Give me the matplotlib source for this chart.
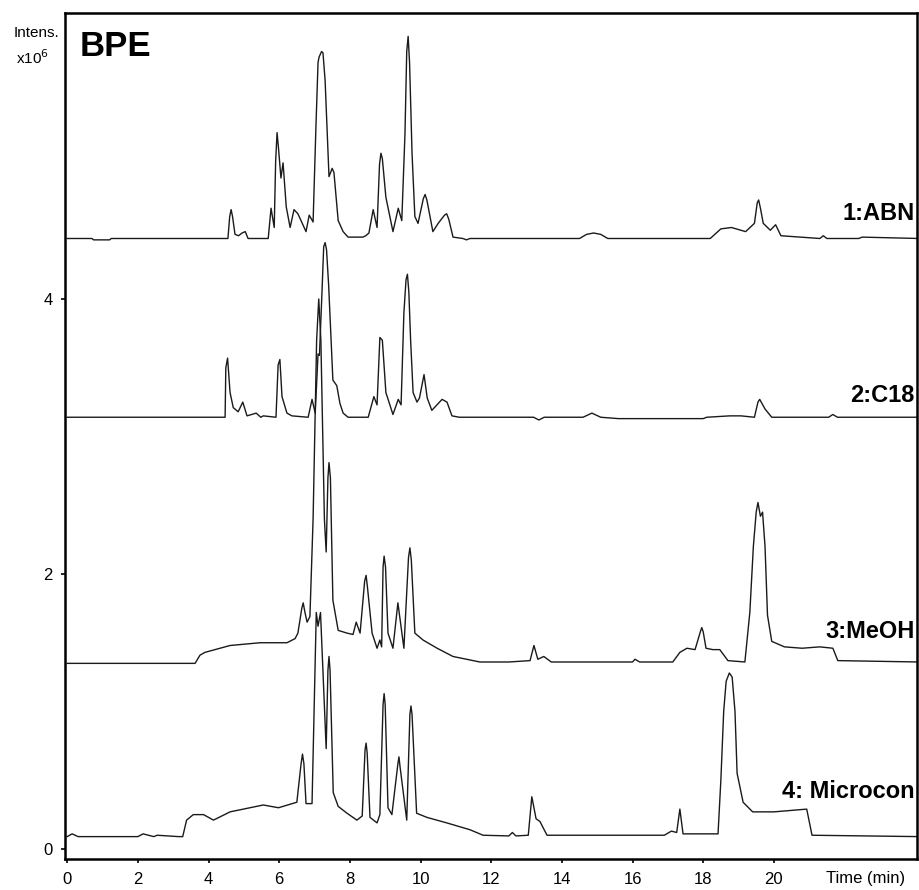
import matplotlib
matplotlib.use('Agg')
import matplotlib.pyplot as plt
import matplotlib.transforms as mtransforms

plt.rcParams['font.family'] = ['Liberation Sans', 'DejaVu Sans']

# --- chromatogram traces (time in min, intensity x10^6) ---
abn_t = [0.0, 0.7, 0.75, 1.2, 1.25, 4.55, 4.60, 4.64, 4.68, 4.75, 4.85, 4.95, 5.04, 5.12, 5.69,
         5.77, 5.86, 5.90, 5.94, 5.98, 6.05, 6.11, 6.20, 6.31, 6.42, 6.53, 6.76, 6.85, 6.96,
         7.04, 7.10, 7.13, 7.20, 7.24, 7.30, 7.41, 7.50, 7.55, 7.67, 7.81, 7.95, 8.37, 8.45,
         8.54, 8.66, 8.77, 8.84, 8.88, 8.92, 9.02, 9.22, 9.37, 9.47, 9.56, 9.61, 9.65, 9.69,
         9.76, 9.84, 9.93, 10.08, 10.13, 10.18, 10.35, 10.50, 10.68, 10.74, 10.80, 10.92, 11.2,
         11.3, 11.4, 14.5, 14.7, 14.9, 15.1, 15.3, 18.2, 18.5, 18.8, 19.2, 19.45, 19.53, 19.57,
         19.62, 19.7, 19.9, 20.05, 20.2, 21.3, 21.4, 21.5, 22.4, 22.5, 24.1]
abn_i = [4.44, 4.44, 4.43, 4.43, 4.44, 4.44, 4.60, 4.65, 4.60, 4.47, 4.46, 4.48, 4.49, 4.44, 4.44,
         4.66, 4.52, 5.00, 5.21, 5.10, 4.88, 4.99, 4.67, 4.52, 4.65, 4.62, 4.49, 4.61, 4.56,
         5.25, 5.72, 5.76, 5.80, 5.79, 5.59, 4.89, 4.95, 4.92, 4.57, 4.49, 4.45, 4.45, 4.46,
         4.48, 4.65, 4.52, 4.98, 5.06, 5.02, 4.74, 4.49, 4.66, 4.57, 5.20, 5.80, 5.91, 5.72,
         5.06, 4.60, 4.55, 4.73, 4.76, 4.72, 4.49, 4.55, 4.61, 4.62, 4.58, 4.45, 4.44,
         4.43, 4.44, 4.44, 4.47, 4.48, 4.47, 4.44, 4.44, 4.51, 4.52, 4.49, 4.55, 4.70, 4.72,
         4.66, 4.55, 4.50, 4.54, 4.46, 4.44, 4.46, 4.44, 4.44, 4.45, 4.44]

c18_t = [0.0, 4.47, 4.49, 4.54, 4.61, 4.70, 4.84, 4.97, 5.09, 5.35, 5.48, 5.55, 5.91, 5.97,
         6.02, 6.08, 6.22, 6.36, 6.82, 6.93, 7.02, 7.10, 7.14, 7.21, 7.26, 7.30, 7.34, 7.40,
         7.52, 7.63, 7.72, 7.81, 7.95, 8.52, 8.68, 8.77, 8.85, 8.92, 9.02, 9.22, 9.37, 9.45,
         9.53, 9.59, 9.63, 9.67, 9.72, 9.79, 9.90, 9.97, 10.10, 10.19, 10.32, 10.61, 10.75,
         10.89, 11.1, 13.2, 13.35, 13.5, 14.6, 14.85, 15.1, 15.6, 15.9, 18.0, 18.1, 18.75,
         19.07, 19.45, 19.55, 19.60, 19.75, 19.94, 21.55, 21.67, 21.8, 24.1]
c18_i = [3.14, 3.14, 3.50, 3.57, 3.32, 3.21, 3.18, 3.25, 3.15, 3.17, 3.14, 3.15, 3.14, 3.52,
         3.56, 3.29, 3.17, 3.15, 3.14, 3.27, 3.17, 3.60, 3.59, 4.04, 4.38, 4.41, 4.36, 4.10,
         3.41, 3.37, 3.24, 3.17, 3.14, 3.14, 3.29, 3.23, 3.72, 3.70, 3.32, 3.16, 3.27, 3.23,
         3.90, 4.14, 4.18, 4.05, 3.70, 3.32, 3.25, 3.28, 3.45, 3.28, 3.19, 3.27, 3.25,
         3.15, 3.14, 3.14, 3.12, 3.14, 3.14, 3.17, 3.14, 3.13, 3.13, 3.13, 3.14, 3.15,
         3.15, 3.14, 3.25, 3.27, 3.20, 3.14, 3.14, 3.16, 3.14, 3.14]

meoh_t = [0.0, 3.62, 3.76, 3.90, 4.61, 5.46, 6.22, 6.45, 6.53, 6.64, 6.68, 6.73, 6.79, 6.87,
          6.96, 7.06, 7.12, 7.18, 7.28, 7.33, 7.38, 7.41, 7.45, 7.52, 7.67, 7.92, 8.09, 8.18,
          8.29, 8.42, 8.46, 8.50, 8.63, 8.77, 8.85, 8.90, 8.94, 8.97, 9.01, 9.08, 9.22, 9.36,
          9.53, 9.66, 9.70, 9.74, 9.84, 10.07, 10.47, 10.92, 11.68, 12.5, 13.1, 13.21, 13.32,
          13.49, 13.7, 16.0, 16.07, 16.2, 17.14, 17.34, 17.54, 17.77, 17.92, 17.96, 18.0,
          18.08, 18.27, 18.47, 18.70, 19.18, 19.32, 19.42, 19.50, 19.55, 19.62, 19.68, 19.75,
          19.82, 19.94, 20.3, 20.8, 21.3, 21.67, 21.81, 24.1]
meoh_i = [1.35, 1.35, 1.41, 1.43, 1.48, 1.50, 1.50, 1.53, 1.57, 1.75, 1.79, 1.72, 1.65, 1.69,
          2.40, 3.70, 4.00, 3.70, 2.40, 2.16, 2.70, 2.81, 2.70, 1.81, 1.59, 1.57, 1.56, 1.65,
          1.57, 1.95, 1.99, 1.90, 1.57, 1.46, 1.52, 1.47, 2.05, 2.13, 2.05, 1.57, 1.46, 1.79,
          1.46, 2.12, 2.19, 2.10, 1.57, 1.52, 1.46, 1.40, 1.36, 1.36, 1.37, 1.48, 1.38,
          1.40, 1.36, 1.36, 1.38, 1.36, 1.36, 1.43, 1.46, 1.45, 1.58, 1.61, 1.58,
          1.46, 1.45, 1.45, 1.37, 1.36, 1.72, 2.20, 2.45, 2.52, 2.42, 2.45, 2.20,
          1.70, 1.51, 1.47, 1.46, 1.47, 1.46, 1.37, 1.36]

micro_t = [0.0, 0.14, 0.31, 2.0, 2.15, 2.45, 2.55, 3.15, 3.27, 3.38, 3.57, 3.86, 4.14, 4.61,
           5.55, 5.98, 6.50, 6.62, 6.66, 6.70, 6.76, 6.93, 7.05, 7.10, 7.17, 7.33, 7.38, 7.41,
           7.44, 7.53, 7.67, 7.92, 8.20, 8.35, 8.43, 8.46, 8.49, 8.57, 8.77, 8.85, 8.94, 8.97,
           9.00, 9.08, 9.19, 9.36, 9.39, 9.42, 9.61, 9.70, 9.73, 9.76, 9.89, 10.18, 10.74, 11.40,
           11.77, 12.5, 12.6, 12.7, 13.05, 13.15, 13.27, 13.38, 13.58, 16.9, 17.1, 17.25, 17.34,
           17.43, 18.42, 18.50, 18.58, 18.65, 18.74, 18.82, 18.90, 18.96, 19.13, 19.4, 20.0,
           20.93, 21.08, 24.1]
micro_i = [0.09, 0.11, 0.09, 0.09, 0.11, 0.09, 0.10, 0.09, 0.09, 0.21, 0.25, 0.25, 0.21, 0.27,
           0.32, 0.30, 0.34, 0.62, 0.69, 0.62, 0.33, 0.33, 1.72, 1.62, 1.72, 0.73, 1.30, 1.40,
           1.30, 0.41, 0.31, 0.26, 0.21, 0.24, 0.72, 0.77, 0.70, 0.23, 0.19, 0.25, 1.05, 1.13,
           1.05, 0.30, 0.25, 0.62, 0.67, 0.60, 0.21, 0.98, 1.04, 0.98, 0.26, 0.23, 0.19, 0.14,
           0.10, 0.095, 0.12, 0.095, 0.10, 0.38, 0.22, 0.20, 0.10, 0.10, 0.13, 0.12, 0.29,
           0.11, 0.11, 0.50, 1.00, 1.22, 1.28, 1.25, 1.00, 0.55, 0.34, 0.27, 0.27,
           0.29, 0.10, 0.09]

trace_labels = ['1:ABN', '2:C18', '3:MeOH', '4: Microcon']
label_y = [4.62, 3.30, 1.58, 0.42]

x_ticks = list(range(0, 21, 2))
y_ticks = [0, 2, 4]

fig = plt.figure(figsize=(9.2, 8.9), dpi=100)
ax = fig.add_axes([0.0707, 0.0348, 0.926, 0.9506])

for t, i in [(abn_t, abn_i), (c18_t, c18_i), (meoh_t, meoh_i), (micro_t, micro_i)]:
    ax.plot(t, i, color='#1a1a1a', linewidth=1.0)

ax.set_xlim(-0.06, 24.05)
ax.set_ylim(-0.073, 6.08)
ax.set_xticks(x_ticks)
ax.set_yticks(y_ticks)
ax.tick_params(direction='out', length=3, width=1.2, labelsize=12, pad=6)
for sp in ax.spines.values():
    sp.set_linewidth(1.8)

for lab, y in zip(trace_labels, label_y):
    ax.text(0.997, y, lab, transform=mtransforms.blended_transform_factory(ax.transAxes, ax.transData),
            ha='right', va='center', fontsize=17, fontweight='bold')

trans = mtransforms.blended_transform_factory(ax.transData, ax.transAxes)
ax.text(22.6, -0.014, 'Time (min)', transform=trans, ha='center', va='top', fontsize=12)

fig.text(80 / 920, 1 - 46 / 890, 'BPE', ha='left', va='center', fontsize=25, fontweight='bold')
fig.text(36 / 920, 1 - 33 / 890, 'Intens.', ha='center', va='center', fontsize=11)
fig.text(32 / 920, 1 - 58 / 890, r'x10$^6$', ha='center', va='center', fontsize=11)

fig.savefig('out.png', dpi=100)
